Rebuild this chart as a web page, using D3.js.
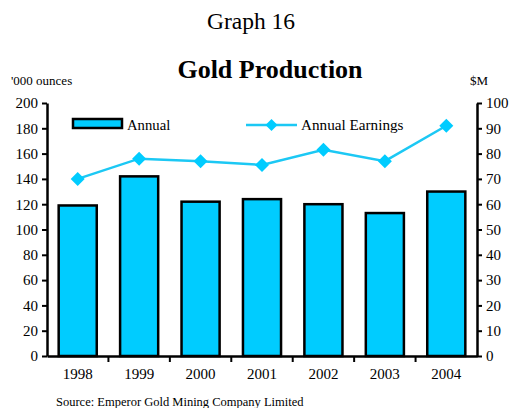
<!DOCTYPE html>
<html>
<head>
<meta charset="utf-8">
<script src="https://cdn.jsdelivr.net/npm/d3@7"></script>
<style>
  html, body { margin: 0; padding: 0; background: #fff; }
  svg { display: block; font-family: "Liberation Serif", "Times New Roman", serif; }
</style>
</head>
<body>
<svg id="chart" width="513" height="408"></svg>
<script>
// Gold production ('000 ounces) and annual earnings ($M), 1998–2004
const years = ["1998", "1999", "2000", "2001", "2002", "2003", "2004"];
const production = [119, 142, 122, 124, 120, 113, 130];
const earnings = [70, 78, 77, 75.5, 81.5, 77, 91];
const leftTicks = [0, 20, 40, 60, 80, 100, 120, 140, 160, 180, 200];
const rightTicks = [0, 10, 20, 30, 40, 50, 60, 70, 80, 90, 100];

const fill = "#00ccff";
const lineColor = "#1cc8f4";

const svg = d3.select("#chart");
const m = { left: 47, right: 477, top: 103, bottom: 356 };

const x = d3.scaleBand().domain(years).range([m.left, m.right]).paddingInner(0.38).paddingOuter(0.19);
const yL = d3.scaleLinear().domain([0, 200]).range([m.bottom, m.top]);
const yR = d3.scaleLinear().domain([0, 100]).range([m.bottom, m.top]);

// Titles
svg.append("text").attr("x", 251).attr("y", 29).attr("text-anchor", "middle")
  .attr("font-size", 23.5).text("Graph 16");
svg.append("text").attr("x", 270).attr("y", 78).attr("text-anchor", "middle")
  .attr("font-size", 26).attr("font-weight", "bold").text("Gold Production");
svg.append("text").attr("x", 11).attr("y", 85).attr("font-size", 13).text("'000 ounces");
svg.append("text").attr("x", 470).attr("y", 85).attr("font-size", 13).text("$M");

// Bars
svg.append("g").selectAll("rect").data(years).join("rect")
  .attr("x", d => x(d))
  .attr("y", (d, i) => yL(production[i]))
  .attr("width", x.bandwidth())
  .attr("height", (d, i) => yL(0) - yL(production[i]))
  .attr("fill", fill).attr("stroke", "#000").attr("stroke-width", 2.5);

// Axes
function styleAxis(g) {
  g.selectAll(".domain").attr("stroke", "#000").attr("stroke-width", 2.5);
  g.selectAll(".tick line").attr("stroke", "#000").attr("stroke-width", 2);
  g.selectAll(".tick text").attr("font-size", 15).attr("fill", "#000")
    .attr("font-family", "Liberation Serif, Times New Roman, serif");
}

const gL = svg.append("g").attr("transform", `translate(${m.left},0)`)
  .call(d3.axisLeft(yL).tickValues(leftTicks).tickSize(5).tickSizeOuter(0).tickPadding(4));
styleAxis(gL);

const gR = svg.append("g").attr("transform", `translate(${m.right},0)`)
  .call(d3.axisRight(yR).tickValues(rightTicks).tickSize(5).tickSizeOuter(0).tickPadding(4));
styleAxis(gR);

// X axis: ticks sit between the year groups
const gX = svg.append("g").attr("transform", `translate(0,${m.bottom})`)
  .call(d3.axisBottom(x).tickSize(0).tickSizeOuter(0).tickPadding(12));
styleAxis(gX);
const step = x.step();
gX.selectAll(".sep").data(d3.range(1, years.length)).join("line")
  .attr("class", "sep")
  .attr("x1", i => m.left + i * step).attr("x2", i => m.left + i * step)
  .attr("y1", 0).attr("y2", 6)
  .attr("stroke", "#000").attr("stroke-width", 2);

// Earnings line with diamond markers
const cx = d => x(d) + x.bandwidth() / 2;
const line = d3.line().x((d, i) => cx(years[i])).y(d => yR(d));
svg.append("path").datum(earnings).attr("d", line)
  .attr("fill", "none").attr("stroke", lineColor).attr("stroke-width", 2.5);

const diamond = s => `M0,${-s}L${s},0L0,${s}L${-s},0Z`;
svg.append("g").selectAll("path").data(earnings).join("path")
  .attr("transform", (d, i) => `translate(${cx(years[i])},${yR(d)})`)
  .attr("d", diamond(7)).attr("fill", fill);

// Legend
const lg = svg.append("g");
lg.append("rect").attr("x", 73).attr("y", 119).attr("width", 49).attr("height", 9)
  .attr("fill", fill).attr("stroke", "#000").attr("stroke-width", 2.5);
lg.append("text").attr("x", 127).attr("y", 130).attr("font-size", 14.7).text("Annual");
lg.append("line").attr("x1", 246).attr("x2", 297).attr("y1", 125).attr("y2", 125)
  .attr("stroke", lineColor).attr("stroke-width", 2.5);
lg.append("path").attr("transform", "translate(271.5,125)").attr("d", diamond(6)).attr("fill", fill);
lg.append("text").attr("x", 301).attr("y", 130).attr("font-size", 15.2).text("Annual Earnings");

// Source note
svg.append("text").attr("x", 56).attr("y", 406).attr("font-size", 12.5)
  .text("Source:  Emperor Gold Mining Company Limited");
</script>
</body>
</html>
